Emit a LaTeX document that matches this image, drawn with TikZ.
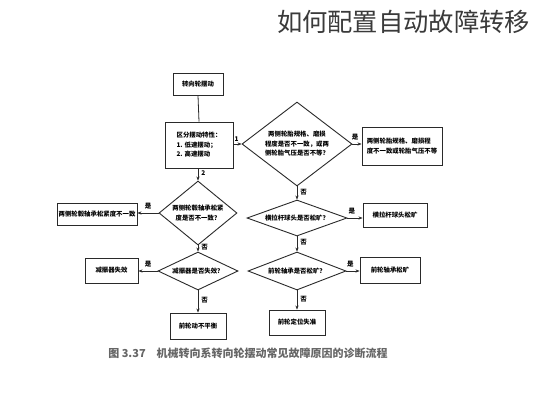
\documentclass[tikz,border=0pt]{standalone}
\usepackage{fontspec}
\setmainfont{Noto Sans CJK SC}
\usetikzlibrary{shapes.geometric,arrows.meta}
\definecolor{linec}{HTML}{2A2A2A}
\definecolor{capc}{HTML}{666666}
\definecolor{titlec}{HTML}{3A3A3A}
\begin{document}
\begin{tikzpicture}[x=1pt,y=-1pt,
  every node/.style={inner sep=0pt},
  fs/.style={font=\fontsize{6.4}{9.5}\selectfont\bfseries, text=black},
  box/.style={draw=linec, line width=0.9pt, rectangle, fs, align=center},
  dia/.style={draw=linec, line width=0.9pt, diamond},
  txt/.style={fs, align=center},
  lbl/.style={font=\fontsize{6.5}{7}\selectfont\bfseries, text=black},
  con/.style={draw=linec, line width=0.8pt},
  arr/.style={con, -{Stealth[length=4pt,width=3.2pt]}}]
\useasboundingbox (0,0) rectangle (533,400);
\fill[white] (0,0) rectangle (533,400);

\node[font=\fontsize{25.3}{27}\selectfont, text=titlec] (title) at (403.5,22) {如何配置自动故障转移};

% left column
\node[box, minimum width=50, minimum height=22] (top) at (198,84) {转向轮摆动};
\node[box, minimum width=68, minimum height=46, align=left] (cls) at (199,145) {区分摆动特性：\\1. 低速摆动；\\2. 高速摆动};
\node[dia, minimum width=78, minimum height=64] (ld1) at (198,213) {};
\node[txt] (ld1t) at (ld1) {两侧轮毂轴承松紧\\度是否不一致？};
\node[box, minimum width=80, minimum height=22] (lb1) at (97,214) {两侧轮毂轴承松紧度不一致};
\node[dia, minimum width=80, minimum height=38] (ld2) at (198,271) {};
\node[txt] (ld2t) at (ld2) {减振器是否失效？};
\node[box, minimum width=53, minimum height=25] (lb2) at (111.5,270.5) {减振器失效};
\node[box, minimum width=56, minimum height=26] (lb3) at (198,326) {前轮动不平衡};

% right column
\node[dia, minimum width=110, minimum height=84] (rd1) at (297,144) {};
\node[txt] (rd1t) at (rd1) {两侧轮胎规格、磨损\\程度是否不一致，或两\\侧轮胎气压是否不等？};
\node[box, minimum width=80, minimum height=38, align=left] (rb1) at (402,146) {两侧轮胎规格、磨损程\\度不一致或轮胎气压不等};
\node[dia, minimum width=100, minimum height=36] (rd2) at (297,218) {};
\node[txt] (rd2t) at (rd2) {横拉杆球头是否松旷？};
\node[box, minimum width=64, minimum height=24] (rb2) at (395,215) {横拉杆球头松旷};
\node[dia, minimum width=98, minimum height=38] (rd3) at (297,271) {};
\node[txt] (rd3t) at (rd3) {前轮轴承是否松旷？};
\node[box, minimum width=60, minimum height=26] (rb3) at (390,270) {前轮轴承松旷};
\node[box, minimum width=56, minimum height=25] (rb4) at (297,322.5) {前轮定位失准};

% connectors
\draw[con] (top.south) -- (cls.north);
\draw[arr] (cls.east |- rd1.west) -- node[lbl, above=2pt, pos=0.4] {1} (rd1.west);
\draw[arr] (cls.south -| ld1.north) -- node[lbl, right=3pt, pos=0.35] {2} (ld1.north);
\draw[arr] (ld1.west) -- node[lbl, above=3pt] {是} (ld1.west -| lb1.east);
\draw[arr] (ld1.south) -- node[lbl, right=3pt, pos=0.3] {否} (ld2.north);
\draw[arr] (ld2.west) -- node[lbl, above=3pt] {是} (ld2.west -| lb2.east);
\draw[arr] (ld2.south) -- node[lbl, right=3pt, pos=0.45] {否} (lb3.north);
\draw[arr] (rd1.east) -- node[lbl, above=3pt, pos=0.3] {是} (rd1.east -| rb1.west);
\draw[arr] (rd1.south) -- node[lbl, right=3pt, pos=0.4] {否} (rd2.north);
\draw[arr] (rd2.east) -- node[lbl, above=3pt, pos=0.3] {是} (rd2.east -| rb2.west);
\draw[arr] (rd2.south) -- node[lbl, right=3pt, pos=0.4] {否} (rd3.north);
\draw[arr] (rd3.east) -- node[lbl, above=3pt, pos=0.3] {是} (rd3.east -| rb3.west);
\draw[arr] (rd3.south) -- node[lbl, right=3pt, pos=0.45] {否} (rb4.north);

\node[font=\fontsize{11}{12}\selectfont\bfseries, text=capc] (cap) at (248,353) {图 3.37\quad 机械转向系转向轮摆动常见故障原因的诊断流程};
\end{tikzpicture}
\end{document}
